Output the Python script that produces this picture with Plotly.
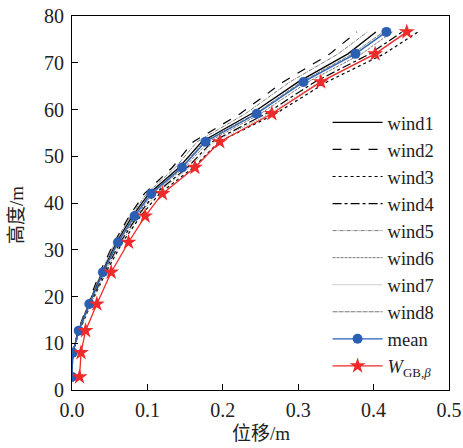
import plotly.graph_objects as go

height = [2.8, 8.0, 12.7, 18.4, 25.2, 31.6, 37.2, 42.0, 47.6, 53.1, 59.1, 65.9, 71.9, 76.6]

wind1 = [0.000, 0.001, 0.009, 0.022, 0.040, 0.059, 0.080, 0.102, 0.142, 0.172, 0.238, 0.300, 0.366, 0.403]
wind2 = [0.000, 0.001, 0.008, 0.021, 0.037, 0.056, 0.076, 0.096, 0.133, 0.161, 0.223, 0.280, 0.342, 0.378]
wind3 = [0.000, 0.001, 0.010, 0.025, 0.045, 0.067, 0.091, 0.116, 0.161, 0.195, 0.270, 0.338, 0.414, 0.459]
wind4 = [0.000, 0.001, 0.009, 0.024, 0.043, 0.064, 0.087, 0.110, 0.153, 0.186, 0.257, 0.322, 0.395, 0.438]
wind5 = [0.000, 0.001, 0.008, 0.022, 0.039, 0.057, 0.078, 0.099, 0.137, 0.166, 0.230, 0.289, 0.353, 0.392]
wind6 = [0.000, 0.001, 0.009, 0.023, 0.042, 0.062, 0.085, 0.107, 0.149, 0.181, 0.250, 0.313, 0.384, 0.425]
wind7 = [0.000, 0.001, 0.010, 0.025, 0.044, 0.065, 0.089, 0.112, 0.156, 0.189, 0.262, 0.328, 0.402, 0.446]
wind8 = [0.000, 0.001, 0.009, 0.023, 0.041, 0.060, 0.082, 0.104, 0.145, 0.175, 0.243, 0.304, 0.372, 0.413]
mean = [0.000, 0.001, 0.009, 0.023, 0.041, 0.061, 0.083, 0.105, 0.146, 0.177, 0.245, 0.307, 0.376, 0.417]
w_gb = [0.010, 0.012, 0.018, 0.033, 0.052, 0.075, 0.097, 0.120, 0.163, 0.196, 0.265, 0.330, 0.402, 0.444]

x_ticks = [0, 0.1, 0.2, 0.3, 0.4, 0.5]
x_labels = ['0.0', '0.1', '0.2', '0.3', '0.4', '0.5']
y_ticks = [0, 10, 20, 30, 40, 50, 60, 70, 80]

serif = "Liberation Serif, Times New Roman, Noto Sans CJK SC"

winds = [
    ("wind1", wind1, "black", "solid", 1.3),
    ("wind2", wind2, "black", "dash", 1.2),
    ("wind3", wind3, "black", "dot", 1.2),
    ("wind4", wind4, "black", "dashdot", 1.2),
    ("wind5", wind5, "#7a7a7a", "4px,1px,1px,1px", 1.0),
    ("wind6", wind6, "#7a7a7a", "3px,1px", 1.0),
    ("wind7", wind7, "#9a9a9a", "1px,1px", 1.0),
    ("wind8", wind8, "#7a7a7a", "5px,1px", 1.0),
]

fig = go.Figure()

for name, xs, color, dash, width in winds:
    fig.add_trace(go.Scatter(x=xs, y=height, mode='lines', name=name,
                             line=dict(color=color, dash=dash, width=width)))

fig.add_trace(go.Scatter(x=mean, y=height, mode='lines+markers', name='mean',
                         line=dict(color='#2b5fb4', width=1.3),
                         marker=dict(symbol='circle', size=10, color='#2b5fb4')))
fig.add_trace(go.Scatter(x=w_gb, y=height, mode='lines+markers',
                         name='<i>W</i><sub>GB,<i>β</i></sub>',
                         line=dict(color='#ee2a2a', width=1.3),
                         marker=dict(symbol='star', size=12, color='#ee2a2a')))

fig.update_layout(width=463, height=448, margin=dict(l=72, r=14, t=16, b=58),
                  plot_bgcolor='white', paper_bgcolor='white',
                  font=dict(family=serif, size=20, color='#222'),
                  legend=dict(x=0.975, y=0.765, xanchor='right', yanchor='top',
                              bgcolor='rgba(0,0,0,0)', font=dict(size=18.5),
                              tracegroupgap=0, itemwidth=50))

# axis titles as annotations so the plot area stays fixed
fig.add_annotation(text='位移/m', xref='paper', yref='paper', x=0.5, y=0,
                   yshift=-43, showarrow=False, xanchor='center', yanchor='middle',
                   font=dict(size=19))
fig.add_annotation(text='高度/m', xref='paper', yref='paper', x=0, y=0.468,
                   xshift=-55, showarrow=False, textangle=-90,
                   xanchor='center', yanchor='middle', font=dict(size=19))

fig.update_xaxes(range=[0, 0.5], tickvals=x_ticks, ticktext=x_labels,
                 ticks='inside', ticklen=6, tickcolor='black', automargin=False,
                 ticklabelstandoff=2,
                 showline=True, linecolor='black', linewidth=1.2, mirror=True,
                 showgrid=False, zeroline=False)
fig.update_yaxes(range=[0, 80], tickvals=y_ticks,
                 ticks='inside', ticklen=6, tickcolor='black', automargin=False,
                 ticklabelstandoff=3,
                 showline=True, linecolor='black', linewidth=1.2, mirror=True,
                 showgrid=False, zeroline=False)

# drop the default body margin so the figure sits at the page corner
fig.write_html("out.html", config={'displayModeBar': False},
               post_script="document.body.style.margin='0';")
